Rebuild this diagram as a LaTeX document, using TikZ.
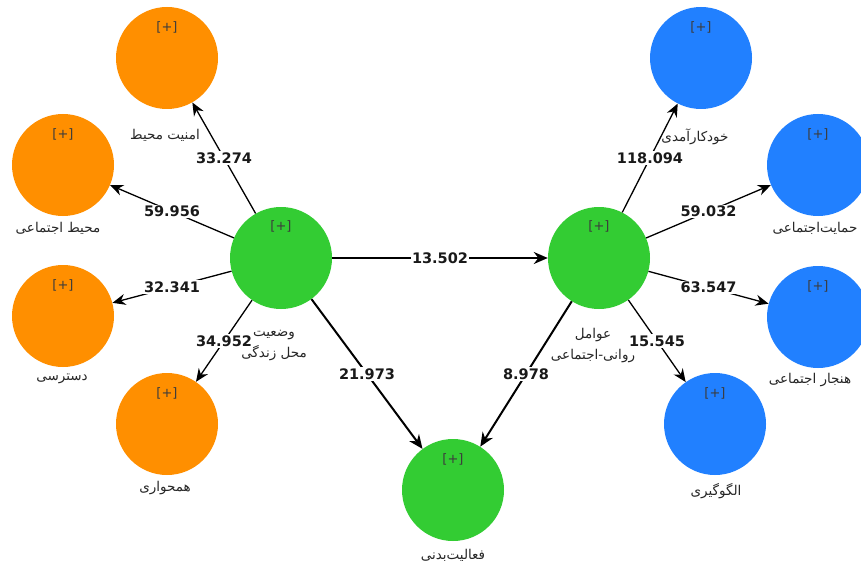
\documentclass[tikz,border=0pt]{standalone}
\usepackage{fontspec}
\setmainfont{DejaVu Sans}
\newfontfamily\arabicfont[Script=Arabic]{DejaVu Sans}
\TeXXeTstate=1
\usetikzlibrary{arrows.meta}
\definecolor{corange}{RGB}{255,143,0}
\definecolor{cgreen}{RGB}{51,204,51}
\definecolor{cblue}{RGB}{33,128,255}
\definecolor{plusgray}{RGB}{60,60,60}
\tikzset{
  lv/.style={circle, minimum size=102pt, inner sep=0pt, draw=none},
  ornode/.style={lv, fill=corange},
  grnode/.style={lv, fill=cgreen},
  blnode/.style={lv, fill=cblue},
  plusmark/.style={font=\fontsize{13}{15}\selectfont, text=plusgray, inner sep=0pt},
  lvname/.style={font=\arabicfont\fontsize{13.5}{21}\selectfont, text=black!85, inner sep=0pt, align=center},
  outedge/.style={line width=1.3pt, -{Stealth[length=13pt,width=11pt]}},
  inedge/.style={line width=2pt, -{Stealth[length=14pt,width=12pt]}},
  val/.style={fill=white, font=\bfseries\fontsize{14.5}{16}\selectfont, inner sep=1.5pt, text=black!90}
}
\begin{document}
\begin{tikzpicture}[x=1pt,y=-1pt]
\useasboundingbox (0,0) rectangle (861,564);
\clip (0,0) rectangle (861,564);
\fill[white] (0,0) rectangle (861,564);
% nodes
\node[ornode] (amn) at (167,58) {};
\node[ornode] (mhe) at (63,165) {};
\node[ornode] (dst) at (63,316) {};
\node[ornode] (hmj) at (167,424) {};
\node[grnode] (vaz) at (281,258) {};
\node[grnode] (avm) at (599,258) {};
\node[grnode] (fal) at (453,490) {};
\node[blnode] (khd) at (701,58) {};
\node[blnode] (hma) at (818,165) {};
\node[blnode] (hnj) at (818,317) {};
\node[blnode] (olg) at (715,424) {};
% plus marks
\foreach \n/\x/\y in {amn/167/27, mhe/63/134, dst/63/285, hmj/167/393, vaz/281/226, avm/599/226, fal/453/459, khd/701/27, hma/818/134, hnj/818/286, olg/715/393}
  \node[plusmark] (p\n) at (\x,\y) {[+]};
% names
\node[lvname] (namn) at (165,135) {\beginR امنیت محیط\endR};
\node[lvname] (nmhe) at (58,228) {\beginR محیط اجتماعی\endR};
\node[lvname] (ndst) at (62,379) {\beginR دسترسی\endR};
\node[lvname] (nhmj) at (165,488) {\beginR همحواری\endR};
\node[lvname] (nvaz) at (274,346) {\beginR وضعیت\endR\\\beginR محل زندگی\endR};
\node[lvname] (navm) at (593,346) {\beginR عوامل\endR\\\beginR روانی-اجتماعی\endR};
\node[lvname] (nfal) at (453,555) {\beginR فعالیت‌بدنی\endR};
\node[lvname] (nkhd) at (695,137) {\beginR خودکارآمدی\endR};
\node[lvname] (nhma) at (815,228) {\beginR حمایت‌اجتماعی\endR};
\node[lvname] (nhnj) at (810,380) {\beginR هنجار اجتماعی\endR};
\node[lvname] (nolg) at (716,491) {\beginR الگوگیری\endR};
% edges
\draw[outedge] (vaz) -- node[val] {33.274} (amn);
\draw[outedge] (vaz) -- node[val] {59.956} (mhe);
\draw[outedge] (vaz) -- node[val] {32.341} (dst);
\draw[outedge] (vaz) -- node[val] {34.952} (hmj);
\draw[inedge] (vaz) -- node[val] {13.502} (avm);
\draw[inedge] (vaz) -- node[val] {21.973} (fal);
\draw[inedge] (avm) -- node[val] {8.978} (fal);
\draw[outedge] (avm) -- node[val] {118.094} (khd);
\draw[outedge] (avm) -- node[val] {59.032} (hma);
\draw[outedge] (avm) -- node[val] {63.547} (hnj);
\draw[outedge] (avm) -- node[val] {15.545} (olg);
\end{tikzpicture}
\end{document}
